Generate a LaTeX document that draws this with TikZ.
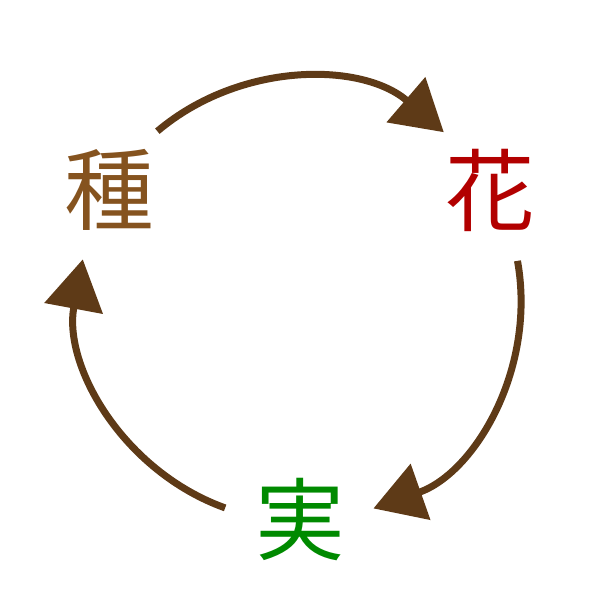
\documentclass[tikz,border=0pt]{standalone}
\usepackage{fontspec}
\usepackage{xcolor}
\usetikzlibrary{arrows.meta}
\newfontfamily\cjkfont{Noto Sans CJK JP}
\definecolor{seedbrown}{HTML}{85531F}
\definecolor{flowerred}{HTML}{B20000}
\definecolor{fruitgreen}{HTML}{008A00}
\definecolor{arrowbrown}{HTML}{5E3A17}

\begin{document}
\begin{tikzpicture}[
    word/.style={inner sep=0pt, font=\cjkfont\fontsize{25.5}{30}\selectfont},
    cyclearrow/.style={draw=arrowbrown, line width=0.07cm,
        -{Triangle[length=0.5cm, width=0.58cm, fill=arrowbrown]}}
  ]
    \useasboundingbox (0,0) rectangle (6,6);
    \coordinate (c) at (3,3);
    % the three stages, spaced on one circle
    \node[word, text=seedbrown] (tane) at ([shift={(150:2.2)}]c) {種};
    \node[word, text=flowerred] (hana) at ([shift={(30:2.2)}]c) {花};
    \node[word, text=fruitgreen] (mi) at ([shift={(270:2.2)}]c) {実};
    % arcs of the same circle between the stages
    \draw[cyclearrow] ([shift={(130.2:2.21)}]c) arc[start angle=130.2, end angle=49.4, radius=2.21];
    \draw[cyclearrow] ([shift={(10.2:2.21)}]c) arc[start angle=10.2, end angle=-70.6, radius=2.21];
    \draw[cyclearrow] ([shift={(-109.8:2.21)}]c) arc[start angle=-109.8, end angle=-190.6, radius=2.21];
\end{tikzpicture}
\end{document}
